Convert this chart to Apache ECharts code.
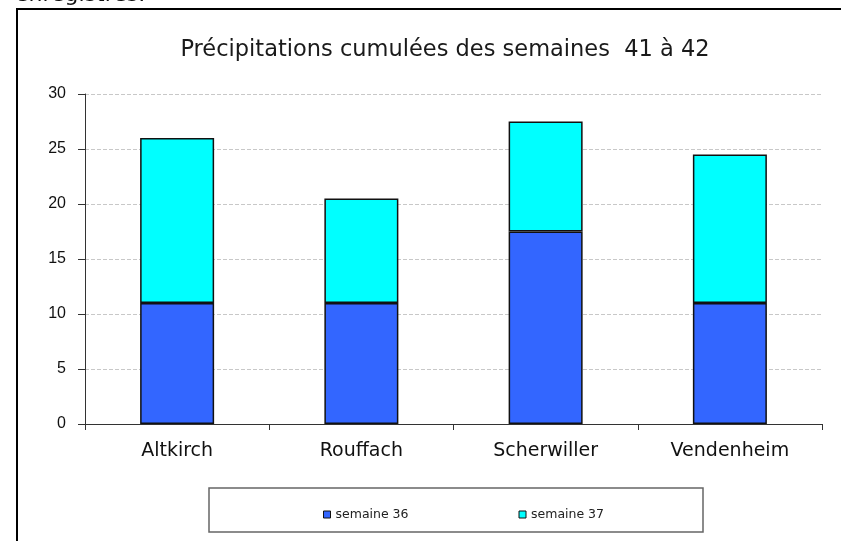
<!DOCTYPE html>
<html>
<head>
<meta charset="utf-8">
<script src="https://cdn.jsdelivr.net/npm/echarts@6/dist/echarts.min.js"></script>
<style>
html, body { margin: 0; padding: 0; background: #fff; }
#chart { width: 841px; height: 541px; }
</style>
</head>
<body>
<div id="chart"></div>
<script>
var stations = ['Altkirch', 'Rouffach', 'Scherwiller', 'Vendenheim'];
var sem36 = [11, 11, 17.5, 11];
var sem37 = [15, 9.5, 10, 13.5];
var seriesNames = ['semaine 36', 'semaine 37'];

var myChart = echarts.init(document.getElementById('chart'));

var font = 'Liberation Sans, Arial, sans-serif';
var wide = 'DejaVu Sans, sans-serif';

var option = {
    animation: false,
    backgroundColor: '#fff',
    title: {
        text: 'Précipitations cumulées des semaines  41 à 42',
        left: 440,
        textAlign: 'center',
        top: 34,
        textStyle: { fontFamily: wide, fontSize: 22.5, fontWeight: 'normal', color: '#1a1a1a' }
    },
    graphic: [
        {
            type: 'text',
            left: 15,
            top: -16,
            style: { text: 'enregistrés.', font: '22px ' + wide, fill: '#111' }
        },
        {
            type: 'rect',
            shape: { x: 17, y: 9, width: 900, height: 600 },
            style: { fill: 'none', stroke: '#000', lineWidth: 2 },
            z: -1
        },
        {
            type: 'rect',
            shape: { x: 209, y: 488, width: 494, height: 44 },
            style: { fill: 'none', stroke: '#666', lineWidth: 1.5 },
            z: -1
        }
    ],
    legend: {
        data: seriesNames,
        left: 318,
        top: 503,
        itemWidth: 7,
        itemHeight: 7,
        itemGap: 110,
        icon: 'rect',
        itemStyle: { borderColor: '#111', borderWidth: 1 },
        textStyle: { fontFamily: wide, fontSize: 12.5, color: '#222' }
    },
    grid: { left: 85, right: 19, top: 94, bottom: 117 },
    xAxis: {
        type: 'category',
        data: stations,
        axisLine: { lineStyle: { color: '#333', width: 1 } },
        axisTick: { show: true, length: 6, lineStyle: { color: '#333' } },
        axisLabel: { fontFamily: wide, fontSize: 19, color: '#111', margin: 18 }
    },
    yAxis: {
        type: 'value',
        min: 0,
        max: 30,
        interval: 5,
        axisLine: { show: true, lineStyle: { color: '#333', width: 1 } },
        axisTick: { show: true, length: 7, lineStyle: { color: '#333' } },
        axisLabel: { fontFamily: font, fontSize: 16, color: '#111', margin: 19 },
        splitLine: { lineStyle: { type: 'dashed', color: '#c8c8c8' } }
    },
    series: [
        {
            name: seriesNames[0],
            type: 'bar',
            stack: 'total',
            barWidth: 74,
            data: sem36,
            itemStyle: { color: '#3366ff', borderColor: '#111', borderWidth: 1.5 }
        },
        {
            name: seriesNames[1],
            type: 'bar',
            stack: 'total',
            barWidth: 74,
            data: sem37,
            itemStyle: { color: '#00ffff', borderColor: '#111', borderWidth: 1.5 }
        }
    ]
};

myChart.setOption(option);
</script>
</body>
</html>
